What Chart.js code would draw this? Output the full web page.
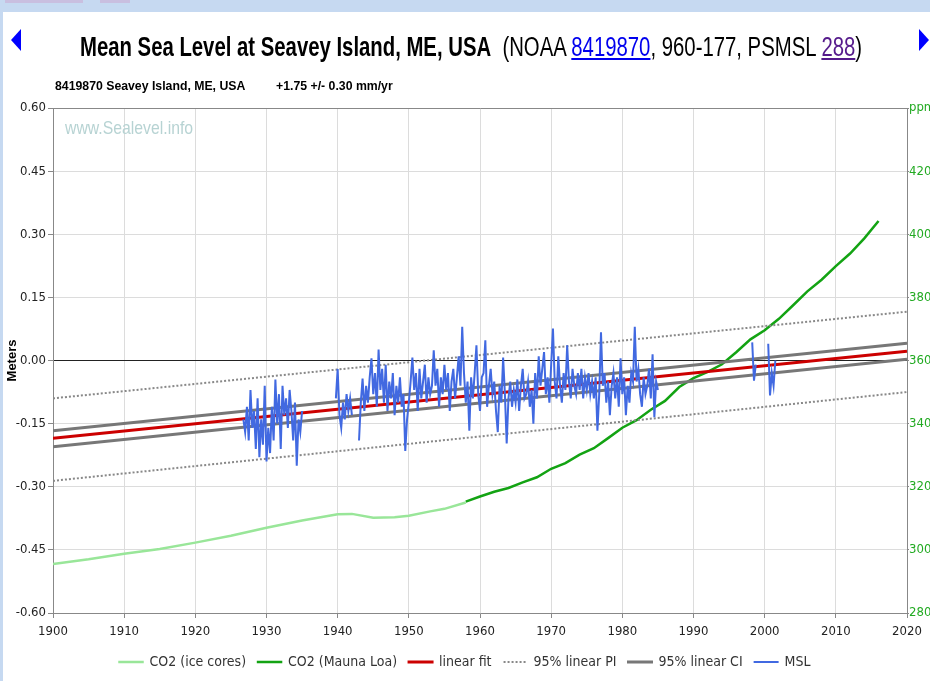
<!DOCTYPE html>
<html>
<head>
<meta charset="utf-8">
<title>Mean Sea Level at Seavey Island, ME, USA</title>
<script src="https://cdn.jsdelivr.net/npm/chart.js@4/dist/chart.umd.min.js"></script>
<style>
  html, body { margin: 0; padding: 0; background: #fff; }
  body { width: 930px; height: 681px; position: relative; overflow: hidden;
         font-family: "Liberation Sans", Arial, sans-serif; }
  #topbar { position: absolute; left: 0; top: 0; width: 930px; height: 12px; background: #c6d9f1; }
  #leftbar { position: absolute; left: 0; top: 0; width: 3px; height: 681px; background: #c6d9f1; }
  .tab { position: absolute; top: 0; height: 3px; background: #c9bfe0; }
  .arrow { position: absolute; top: 29px; width: 0; height: 0; border-top: 11px solid transparent; border-bottom: 11px solid transparent; }
  #arrowL { left: 11px; border-right: 10px solid #0000ff; }
  #arrowR { left: 919px; border-left: 10px solid #0000ff; }
  .squeeze { position: absolute; white-space: nowrap; }
  .squeeze > span { display: inline-block; transform-origin: 0 0; }
  #title { left: 80px; top: 32px; font-size: 27px; color: #000; }
  #title b { font-weight: bold; }
  #title a { text-decoration: underline; }
  #subtitle { left: 55px; top: 78px; font-size: 13px; font-weight: bold; color: #000; }
  #watermark { left: 65px; top: 117px; font-size: 19px; color: #b7d3d3; }
  canvas { position: absolute; left: 0; top: 0; }
</style>
</head>
<body>
<div id="topbar"></div>
<div id="leftbar"></div>
<div class="tab" style="left:5px;width:78px"></div>
<div class="tab" style="left:100px;width:30px"></div>
<canvas id="chart" width="930" height="681"></canvas>
<div class="arrow" id="arrowL"></div>
<div class="arrow" id="arrowR"></div>
<div class="squeeze" id="title"><span><b>Mean Sea Level at Seavey Island, ME, USA</b>&nbsp; (NOAA <a style="color:#0000ee">8419870</a>, 960-177, PSMSL <a style="color:#551a8b">288</a>)</span></div>
<div class="squeeze" id="subtitle"><span>8419870 Seavey Island, ME, USA&nbsp;&nbsp;&nbsp;&nbsp;&nbsp;&nbsp;&nbsp;&nbsp;&nbsp;+1.75 +/- 0.30 mm/yr</span></div>
<div class="squeeze" id="watermark"><span>www.Sealevel.info</span></div>
<script>
// axis ticks
const xTicks = [1900, 1910, 1920, 1930, 1940, 1950, 1960, 1970, 1980, 1990, 2000, 2010, 2020];
const meterTicks = [-0.60, -0.45, -0.30, -0.15, 0.00, 0.15, 0.30, 0.45, 0.60];
const ppmTicks = [280, 300, 320, 340, 360, 380, 400, 420, 440];

// CO2 (ppm)
const iceYears = [1900, 1905, 1910, 1915, 1920, 1925, 1930, 1935, 1940, 1942, 1945, 1948, 1950, 1953, 1955, 1958];
const icePpm   = [295.5, 297, 298.8, 300.3, 302.3, 304.5, 307, 309.3, 311.3, 311.4, 310.2, 310.3, 310.8, 312.2, 313, 315];
const mlYears  = [1958, 1960, 1962, 1964, 1966, 1968, 1970, 1972, 1974, 1976, 1978, 1980, 1982, 1984, 1986, 1988, 1990, 1992, 1994, 1996, 1998, 2000, 2002, 2004, 2006, 2008, 2010, 2012, 2014, 2016];
const mlPpm    = [315.3, 316.9, 318.4, 319.6, 321.4, 323, 325.7, 327.5, 330.2, 332.2, 335.4, 338.7, 341.1, 344.4, 347.2, 351.6, 354.4, 356.4, 358.8, 362.6, 366.7, 369.6, 373.2, 377.5, 381.9, 385.6, 389.9, 393.9, 398.7, 404.2];

// regression lines (m), at 1900 and 2020
const lineYears = [1900, 2020];
const fitLine = [-0.185, 0.022];
const piUpper = [-0.090, 0.116];
const piLower = [-0.286, -0.075];
const ciUpper = [-0.167, 0.041];
const ciLower = [-0.205, 0.003];

// MSL, quarterly values (m); each segment starts at its year, nulls are gaps
const mslStep = 0.25;
const mslStarts = [1926.75, 1939.75, 1998.25, 2000.5];
const mslSeg1 = [-0.14, -0.17, -0.11, -0.19, -0.07, -0.16, -0.12, -0.21, -0.09, -0.23, -0.14, -0.20, -0.06, -0.24,
  -0.16, -0.22, -0.11, -0.19, -0.045, -0.15, -0.08, -0.21, -0.06, -0.13, -0.09, -0.16, -0.07, -0.12, -0.19, -0.10,
  -0.25, -0.14, -0.17, -0.12];
const mslSeg2 = [-0.09, -0.02, -0.13, -0.16, -0.10, -0.14, -0.08, -0.12, -0.09, -0.13, null, null, null,
  -0.19, -0.10, -0.043, -0.12, -0.06, -0.10, -0.04, 0.005, -0.08, -0.03, -0.11, 0.026, -0.07, -0.02, -0.10,
  -0.01, -0.12, -0.05, -0.09, -0.03, -0.13, -0.06, -0.10, -0.04, -0.11, -0.08, -0.215, -0.14, -0.10, -0.05,
  0.007, -0.07, -0.03, -0.12, -0.02, -0.09, -0.05, -0.01, -0.10, -0.04, -0.08, -0.06, 0.024, -0.06, -0.02,
  -0.11, -0.04, -0.08, -0.01, -0.07, -0.03, -0.12, -0.05, -0.02, -0.09, -0.04, 0.01, -0.06, 0.08, -0.03,
  -0.10, -0.05, -0.167, -0.04, -0.09, -0.03, 0.036, -0.08, -0.12, -0.04, -0.03, 0.048, -0.11, -0.06, -0.02,
  -0.08, -0.05, -0.12, -0.17, -0.06, -0.10, 0.007, -0.08, -0.197, -0.09, -0.05, -0.11, -0.07, -0.10, -0.045,
  -0.12, -0.06, -0.02, -0.09, -0.08, -0.05, -0.11, -0.07, -0.15, -0.03, -0.09, 0.01, -0.06, -0.02, 0.02,
  -0.08, -0.04, -0.10, -0.01, 0.076, -0.05, -0.09, 0.01, -0.06, -0.10, -0.03, -0.07, 0.036, -0.05, -0.09,
  -0.02, -0.06, -0.08, -0.03, -0.07, -0.02, -0.09, -0.04, -0.07, -0.03, -0.08, -0.05, -0.09, -0.04, -0.167,
  -0.08, 0.067, -0.06, -0.03, -0.10, -0.05, -0.13, -0.06, -0.03, -0.09, -0.04, -0.11, 0.005, -0.08, -0.04,
  -0.13, -0.06, -0.10, -0.03, -0.05, 0.08, -0.05, -0.02, -0.08, -0.11, -0.04, -0.08, -0.06, -0.02, -0.09,
  0.015, -0.135, -0.05, -0.07];
const mslSeg3 = [0.043, -0.048, -0.01];
const mslSeg4 = [0.04, -0.083, -0.03, -0.06, 0.0];

const narrow = '"DejaVu Sans Condensed", "Liberation Sans", sans-serif';

// squeeze the html headings to the width they take in the original
function squeeze(id, w) {
  const inner = document.getElementById(id).firstElementChild;
  inner.style.transform = 'scaleX(' + (w / inner.offsetWidth) + ')';
}
squeeze('title', 782);
squeeze('subtitle', 338);
squeeze('watermark', 128);

function pairs(xs, ys) {
  return xs.map((x, i) => ({ x: x, y: ys[i] }));
}

// join the MSL segments, with a null between them so the line breaks
const mslSegs = [mslSeg1, mslSeg2, mslSeg3, mslSeg4];
const mslData = [];
mslSegs.forEach((seg, s) => {
  seg.forEach((v, i) => mslData.push({ x: mslStarts[s] + i * mslStep, y: v }));
  mslData.push({ x: mslStarts[s] + seg.length * mslStep, y: null });
});

const common = { pointRadius: 0, pointHoverRadius: 0, tension: 0, fill: false };

new Chart(document.getElementById('chart'), {
  type: 'line',
  data: {
    datasets: [
      { ...common, label: 'CO2 (ice cores)', data: pairs(iceYears, icePpm), yAxisID: 'y2',
        borderColor: '#99e699', backgroundColor: '#99e699', borderWidth: 2.5, order: 6 },
      { ...common, label: 'CO2 (Mauna Loa)', data: pairs(mlYears, mlPpm), yAxisID: 'y2',
        borderColor: '#13a313', backgroundColor: '#13a313', borderWidth: 2.5, order: 5 },
      { ...common, label: 'linear fit', data: pairs(lineYears, fitLine), yAxisID: 'y',
        borderColor: '#cc0000', backgroundColor: '#cc0000', borderWidth: 3, order: 1 },
      { ...common, label: '95% linear PI', data: pairs(lineYears, piUpper), yAxisID: 'y',
        borderColor: '#888', backgroundColor: 'rgba(0,0,0,0)', borderWidth: 2, borderDash: [2, 2], order: 4 },
      { ...common, label: '95% linear PI', data: pairs(lineYears, piLower), yAxisID: 'y',
        borderColor: '#888', backgroundColor: 'rgba(0,0,0,0)', borderWidth: 2, borderDash: [2, 2], order: 4 },
      { ...common, label: '95% linear CI', data: pairs(lineYears, ciUpper), yAxisID: 'y',
        borderColor: '#777', backgroundColor: '#777', borderWidth: 3, order: 2 },
      { ...common, label: '95% linear CI', data: pairs(lineYears, ciLower), yAxisID: 'y',
        borderColor: '#777', backgroundColor: '#777', borderWidth: 3, order: 2 },
      { ...common, label: 'MSL', data: mslData, yAxisID: 'y', spanGaps: false,
        borderColor: '#4169e1', backgroundColor: '#4169e1', borderWidth: 2, order: 0 }
    ]
  },
  options: {
    responsive: false,
    devicePixelRatio: 1,
    animation: false,
    layout: { padding: { top: 108, left: 0, right: 0, bottom: 2 } },
    plugins: {
      tooltip: { enabled: false },
      legend: {
        display: true,
        position: 'bottom',
        labels: {
          // odd width keeps the dots of the flat legend box in step
          boxWidth: 23,
          boxHeight: 0.01,
          padding: 12,
          color: '#333',
          font: { family: narrow, size: 14 },
          sort: (a, b) => a.datasetIndex - b.datasetIndex,
          // one entry per band, not per edge
          filter: (item, data) => data.datasets.findIndex(d => d.label === item.text) === item.datasetIndex
        }
      }
    },
    scales: {
      x: {
        type: 'linear',
        min: xTicks[0],
        max: xTicks[xTicks.length - 1],
        afterBuildTicks: (s) => { s.ticks = xTicks.map(v => ({ value: v })); },
        afterFit: (s) => { s.height = 30; },
        ticks: { color: '#222', font: { family: narrow, size: 13 }, maxRotation: 0, padding: 6,
                 callback: (v) => String(v) },
        grid: { color: '#dcdcdc', lineWidth: 1, tickLength: 5, tickColor: '#888' },
        border: { color: '#888', width: 1 }
      },
      y: {
        type: 'linear',
        position: 'left',
        min: meterTicks[0],
        max: meterTicks[meterTicks.length - 1],
        afterBuildTicks: (s) => { s.ticks = meterTicks.map(v => ({ value: v })); },
        afterFit: (s) => { s.width = 53; },
        ticks: { color: '#222', font: { family: narrow, size: 13 }, padding: 2,
                 callback: (v) => v.toFixed(2) },
        grid: {
          lineWidth: 1, tickLength: 5, tickColor: '#888',
          color: (c) => {
            const v = c.tick ? c.tick.value : null;
            if (v !== null && Math.abs(v) < 1e-9) return '#222';
            if (v !== null && v > 0.59) return '#888';
            return '#dcdcdc';
          }
        },
        border: { color: '#888', width: 1 },
        title: { display: true, text: 'Meters', color: '#000', padding: { top: 5, bottom: 0 },
                 font: { family: '"Liberation Sans", Arial, sans-serif', size: 13, weight: 'bold' } }
      },
      y2: {
        type: 'linear',
        position: 'right',
        min: ppmTicks[0],
        max: ppmTicks[ppmTicks.length - 1],
        afterBuildTicks: (s) => { s.ticks = ppmTicks.map(v => ({ value: v })); },
        afterFit: (s) => { s.width = 23; },
        ticks: { color: '#22aa22', font: { family: narrow, size: 13 }, padding: 0,
                 callback: (v) => (v === 440 ? 'ppm' : String(v)) },
        grid: { drawOnChartArea: false, tickLength: 2, tickColor: '#888' },
        border: { color: '#888', width: 1 }
      }
    }
  }
});
</script>
</body>
</html>
